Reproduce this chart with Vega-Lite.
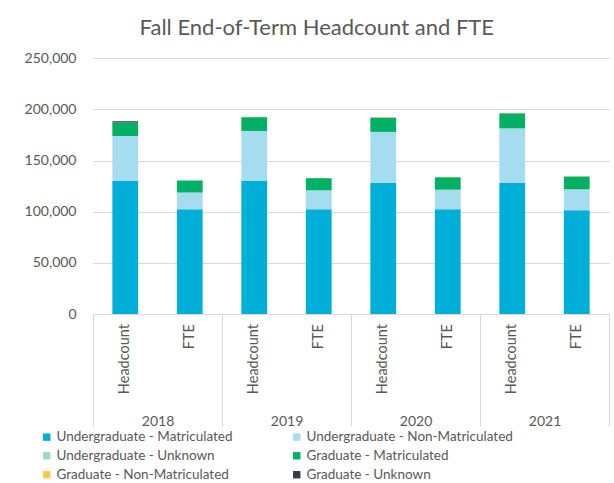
{
  "$schema": "https://vega.github.io/schema/vega-lite/v6.json",
  "width": 516,
  "height": 266,
  "autosize": "none",
  "padding": {"left": 93, "top": 48, "right": 5, "bottom": 169},
  "background": "white",
  "config": {"view": {"stroke": null}, "font": "Lato"},
  "title": {
    "text": "Fall End-of-Term Headcount and FTE",
    "fontSize": 22,
    "font": "Lato",
    "fontWeight": "normal",
    "color": "#595959",
    "frame": "bounds",
    "anchor": "middle",
    "offset": 8
  },
  "datasets": {
    "enrollment": [
      {"year": "2018", "measure": "Headcount", "category": "Undergraduate - Matriculated", "rank": 1, "value": 130000},
      {"year": "2018", "measure": "Headcount", "category": "Undergraduate - Non-Matriculated", "rank": 2, "value": 44100},
      {"year": "2018", "measure": "Headcount", "category": "Graduate - Matriculated", "rank": 4, "value": 13200},
      {"year": "2018", "measure": "Headcount", "category": "Graduate - Unknown", "rank": 6, "value": 1000},
      {"year": "2018", "measure": "FTE", "category": "Undergraduate - Matriculated", "rank": 1, "value": 102400},
      {"year": "2018", "measure": "FTE", "category": "Undergraduate - Non-Matriculated", "rank": 2, "value": 16300},
      {"year": "2018", "measure": "FTE", "category": "Graduate - Matriculated", "rank": 4, "value": 11900},
      {"year": "2019", "measure": "Headcount", "category": "Undergraduate - Matriculated", "rank": 1, "value": 130000},
      {"year": "2019", "measure": "Headcount", "category": "Undergraduate - Non-Matriculated", "rank": 2, "value": 48900},
      {"year": "2019", "measure": "Headcount", "category": "Graduate - Matriculated", "rank": 4, "value": 13500},
      {"year": "2019", "measure": "Headcount", "category": "Graduate - Non-Matriculated", "rank": 5, "value": 300},
      {"year": "2019", "measure": "FTE", "category": "Undergraduate - Matriculated", "rank": 1, "value": 102400},
      {"year": "2019", "measure": "FTE", "category": "Undergraduate - Non-Matriculated", "rank": 2, "value": 18500},
      {"year": "2019", "measure": "FTE", "category": "Graduate - Matriculated", "rank": 4, "value": 11900},
      {"year": "2019", "measure": "FTE", "category": "Graduate - Non-Matriculated", "rank": 5, "value": 200},
      {"year": "2020", "measure": "Headcount", "category": "Undergraduate - Matriculated", "rank": 1, "value": 128400},
      {"year": "2020", "measure": "Headcount", "category": "Undergraduate - Non-Matriculated", "rank": 2, "value": 49600},
      {"year": "2020", "measure": "Headcount", "category": "Graduate - Matriculated", "rank": 4, "value": 14000},
      {"year": "2020", "measure": "Headcount", "category": "Graduate - Non-Matriculated", "rank": 5, "value": 300},
      {"year": "2020", "measure": "FTE", "category": "Undergraduate - Matriculated", "rank": 1, "value": 102400},
      {"year": "2020", "measure": "FTE", "category": "Undergraduate - Non-Matriculated", "rank": 2, "value": 19100},
      {"year": "2020", "measure": "FTE", "category": "Graduate - Matriculated", "rank": 4, "value": 12200},
      {"year": "2020", "measure": "FTE", "category": "Graduate - Non-Matriculated", "rank": 5, "value": 200},
      {"year": "2021", "measure": "Headcount", "category": "Undergraduate - Matriculated", "rank": 1, "value": 128100},
      {"year": "2021", "measure": "Headcount", "category": "Undergraduate - Non-Matriculated", "rank": 2, "value": 53300},
      {"year": "2021", "measure": "Headcount", "category": "Graduate - Matriculated", "rank": 4, "value": 14800},
      {"year": "2021", "measure": "Headcount", "category": "Graduate - Non-Matriculated", "rank": 5, "value": 300},
      {"year": "2021", "measure": "FTE", "category": "Undergraduate - Matriculated", "rank": 1, "value": 101500},
      {"year": "2021", "measure": "FTE", "category": "Undergraduate - Non-Matriculated", "rank": 2, "value": 20400},
      {"year": "2021", "measure": "FTE", "category": "Graduate - Matriculated", "rank": 4, "value": 12500},
      {"year": "2021", "measure": "FTE", "category": "Graduate - Non-Matriculated", "rank": 5, "value": 200}
    ]
  },
  "data": {"name": "enrollment"},
  "encoding": {
    "x": {
      "field": "year",
      "type": "nominal",
      "scale": {"paddingInner": 0, "paddingOuter": 0},
      "axis": {
        "title": null,
        "labelAngle": 0,
        "labelFontSize": 14,
        "labelColor": "#595959",
        "labelPadding": -12,
        "labelBaseline": "top",
        "tickBand": "extent",
        "tickSize": 112,
        "tickColor": "#d9d9d9",
        "domainColor": "#d9d9d9",
        "grid": false
      }
    },
    "xOffset": {
      "field": "measure",
      "type": "nominal",
      "sort": ["Headcount", "FTE"],
      "scale": {"paddingInner": 0.6, "paddingOuter": 0.3}
    }
  },
  "layer": [
    {
      "mark": {"type": "bar"},
      "encoding": {
        "y": {
          "field": "value",
          "type": "quantitative",
          "stack": "zero",
          "scale": {"domain": [0, 250000]},
          "axis": {
            "title": null,
            "values": [0, 50000, 100000, 150000, 200000, 250000],
            "format": ",d",
            "labelFontSize": 14,
            "labelColor": "#595959",
            "labelPadding": 17,
            "gridColor": "#d9d9d9",
            "ticks": false,
            "domain": false
          }
        },
        "color": {
          "field": "category",
          "type": "nominal",
          "scale": {
            "domain": ["Undergraduate - Matriculated", "Undergraduate - Unknown", "Graduate - Non-Matriculated", "Undergraduate - Non-Matriculated", "Graduate - Matriculated", "Graduate - Unknown"],
            "range": ["#00AFD7", "#A0DAC4", "#FFC845", "#A6DCEF", "#00B064", "#333F48"]
          },
          "legend": {
            "title": null,
            "orient": "none",
            "legendX": -53,
            "legendY": 382,
            "columns": 2,
            "columnPadding": 57,
            "rowPadding": 4,
            "symbolType": "square",
            "symbolSize": 55,
            "symbolStrokeWidth": 0,
            "labelFontSize": 13.5,
            "labelColor": "#595959",
            "labelOffset": 3,
            "labelLimit": 300
          }
        },
        "order": {"field": "rank", "sort": "ascending"}
      }
    },
    {
      "transform": [{"aggregate": [], "groupby": ["year", "measure"]}],
      "mark": {"type": "text", "angle": 270, "align": "right", "baseline": "middle", "dx": -10, "fontSize": 14.5, "color": "#595959", "font": "Lato"},
      "encoding": {
        "y": {"datum": 0},
        "text": {"field": "measure"}
      }
    }
  ]
}
